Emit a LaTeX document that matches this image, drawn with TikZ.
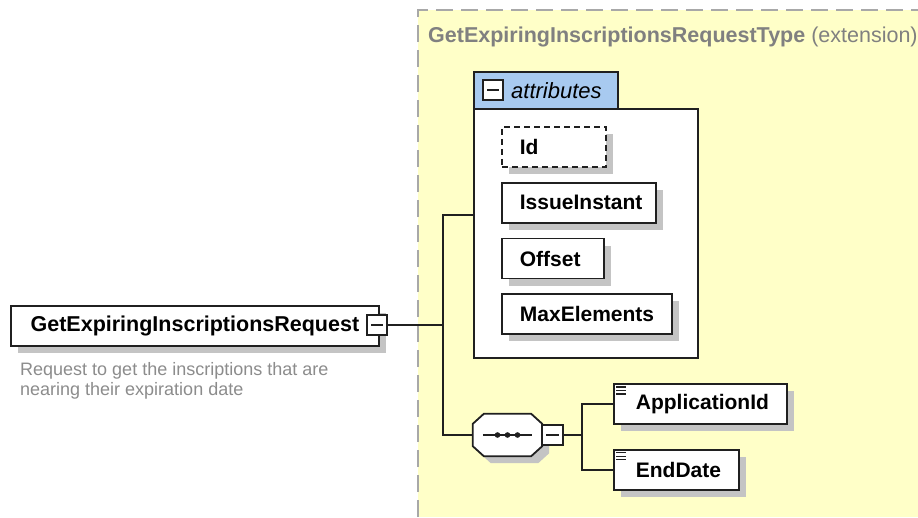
\documentclass[tikz,border=0pt]{standalone}
\usepackage{fontspec}
\setmainfont{Liberation Sans}
\usepackage{xcolor}
\usepackage{tikz}
\usetikzlibrary{positioning, shadows, calc}

\definecolor{typeyellow}{RGB}{255,255,200}
\definecolor{typedash}{RGB}{168,168,168}
\definecolor{headblue}{RGB}{168,202,240}
\definecolor{titlegray}{RGB}{128,128,128}
\definecolor{docgray}{RGB}{140,140,140}
\definecolor{boxline}{RGB}{32,32,32}
\definecolor{shadowgray}{RGB}{196,196,196}

\begin{document}
\begin{tikzpicture}[
    x=1pt, y=-1pt,
    conn/.style={draw=boxline, line width=1.8pt},
    box/.style={draw=boxline, line width=1.8pt, fill=white, align=left, inner xsep=18pt, inner ysep=0pt,
        minimum height=40pt, font=\bfseries\fontsize{21}{25}\selectfont,
        drop shadow={shadow xshift=7pt, shadow yshift=-7pt, fill=shadowgray, opacity=1}},
    optbox/.style={box, dash pattern=on 6pt off 4pt},
    toggle/.style={draw=boxline, fill=white, line width=1.6pt, minimum width=20pt, minimum height=20pt, inner sep=0pt,
        path picture={\draw[line width=1.6pt] ([xshift=4pt]path picture bounding box.west) -- ([xshift=-4pt]path picture bounding box.east);}},
    seqshape/.style={draw=boxline, line width=1.8pt, fill=white,
        drop shadow={shadow xshift=7pt, shadow yshift=-7pt, fill=shadowgray, opacity=1}}
]
    \useasboundingbox (0,0) rectangle (918,517);
    \fill[white] (0,0) rectangle (918,517);

    % extension type area
    \fill[typeyellow] (418,10) rectangle (918,517);
    \draw[typedash, line width=2.5pt, dash pattern=on 17pt off 8pt] (418,517) -- (418,10) -- (918,10);
    \node[anchor=west, inner sep=0pt, text=titlegray, font=\fontsize{21.5}{25}\selectfont] (typetitle) at (428,37)
        {\textbf{GetExpiringInscriptionsRequestType} (extension)};

    % root element
    \node[box, anchor=north west, minimum width=368pt, font=\bfseries\fontsize{21.5}{25}\selectfont] (root) at (10,305) {GetExpiringInscriptionsRequest};
    \node[toggle] (rootmin) at (377,325) {};
    \node[anchor=north west, inner sep=0pt, align=left, text=docgray, font=\fontsize{18}{20}\selectfont] (rootdoc) at (20,362)
        {Request to get the inscriptions that are\\nearing their expiration date};

    % attributes group
    \node[draw=boxline, line width=1.8pt, fill=white, anchor=north west, minimum width=224pt, minimum height=249pt] (attrbody) at (473,108) {};
    \node[draw=boxline, line width=1.8pt, fill=headblue, anchor=north west, minimum width=144pt, minimum height=37pt] (attrhead) at (473,71) {};
    \node[toggle] (attrmin) at (493,90) {};
    \node[anchor=west, inner sep=0pt, font=\itshape\fontsize{22}{26}\selectfont] (attrlabel) at (511,91) {attributes};

    \node[optbox, anchor=north west, text width=68pt] (attrid) at (501,126) {Id};
    \node[box, below=14pt of attrid.south west, anchor=north west, text width=118pt] (attrissue) {IssueInstant};
    \node[box, below=14pt of attrissue.south west, anchor=north west, text width=66pt] (attroffset) {Offset};
    \node[box, below=14pt of attroffset.south west, anchor=north west, text width=134pt] (attrmax) {MaxElements};

    % sequence
    \node[minimum width=69pt, minimum height=42pt, inner sep=0pt] (seq) at (507.5,435) {};
    \draw[seqshape] ([xshift=11pt]seq.north west) -- ([xshift=-11pt]seq.north east) -- ([yshift=-10pt]seq.north east)
        -- ([yshift=10pt]seq.south east) -- ([xshift=-11pt]seq.south east) -- ([xshift=11pt]seq.south west)
        -- ([yshift=10pt]seq.south west) -- ([yshift=-10pt]seq.north west) -- cycle;
    \draw[conn] ([xshift=10pt]seq.west) -- ([xshift=-10pt]seq.east);
    \foreach \dx in {-10,0,10}
        \fill[boxline] (seq.center) ++(\dx,0) circle (2.8pt);
    \node[toggle, minimum width=21pt] (seqmin) at (552.5,435) {};

    \node[box, anchor=north west, minimum width=170pt] (appid) at (613,383) {\hspace{4pt}ApplicationId};
    \node[box, below=24pt of appid.south west, anchor=north west, minimum width=117pt] (enddate) {\hspace{4pt}EndDate};
    \foreach \n in {appid,enddate}
        \foreach \dy in {4,7.5,11}
            \draw[boxline, line width=1.3pt] ($(\n.north west)+(3,\dy)$) -- ++(10,0);

    % connectors
    \coordinate (rootfork) at (443,325);
    \coordinate (attrin) at (473,215);
    \coordinate (seqfork) at (582,435);
    \draw[conn] (rootmin.east) -- (rootfork);
    \draw[conn] (attrin) -| (rootfork) |- (seq.west);
    \draw[conn] (seqmin.east) -- (seqfork);
    \draw[conn] (appid.west) -| (seqfork) |- (enddate.west);

\end{tikzpicture}
\end{document}
